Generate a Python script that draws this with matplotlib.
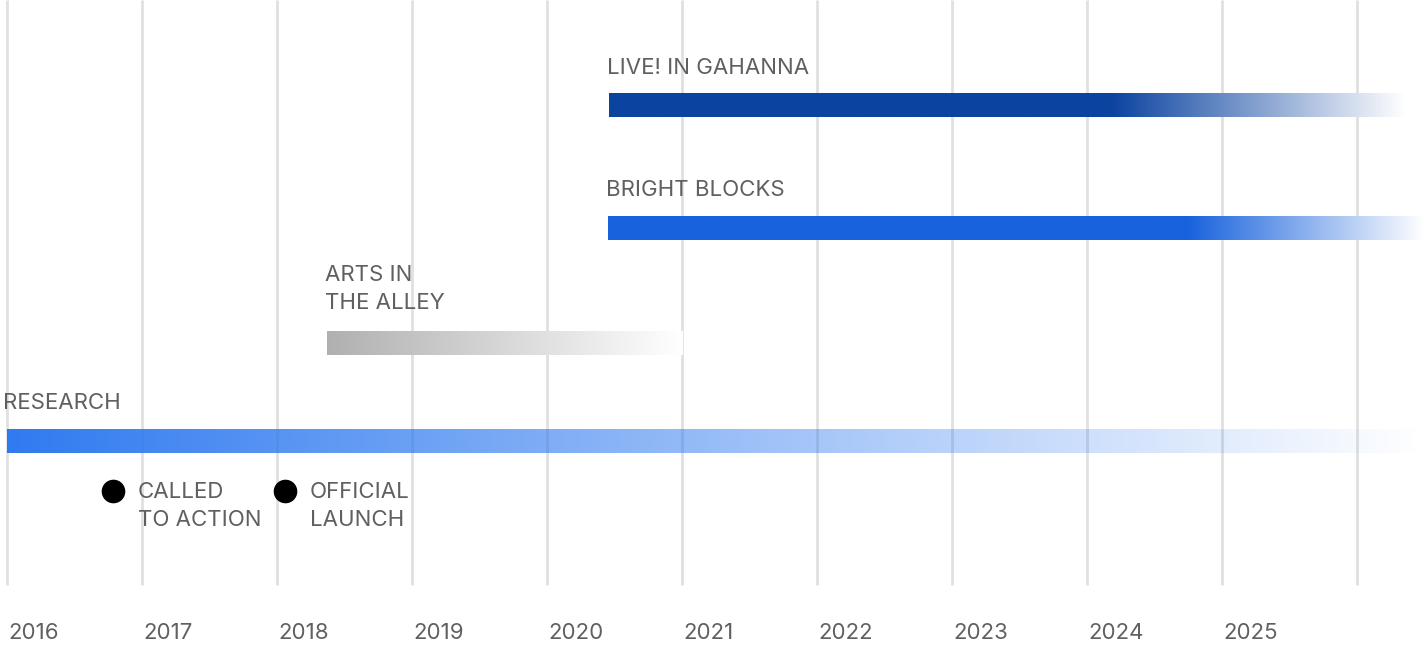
import numpy as np
import matplotlib.pyplot as plt
from matplotlib.colors import to_rgb

plt.rcParams['font.family'] = ['Inter', 'DejaVu Sans']

# timeline data (years)
years = np.arange(2016, 2027)
year_labels = [str(y) for y in range(2016, 2026)]

bar_names = ["LIVE! IN GAHANNA", "BRIGHT BLOCKS", "ARTS IN\nTHE ALLEY", "RESEARCH"]
bar_start = [2020.46, 2020.45, 2018.37, 2016.0]
bar_end = [2026.36, 2026.5, 2021.0, 2026.5]
bar_solid = [0.63, 0.71, 0.0, 0.0]   # fraction of bar before fading starts
bar_color = ["#0b43a0", "#1862dd", "#b0b0b0", "#2f7af0"]

event_names = ["CALLED\nTO ACTION", "OFFICIAL\nLAUNCH"]
event_year = [2016.785, 2018.06]

# layout (pixel-like y, top = 0)
bar_y = [105, 228, 343, 441]
bar_h = 24
label_y = [68, 190, 289, 403]
event_y = 491

fig = plt.figure(figsize=(14.24, 6.46), dpi=100)
ax = fig.add_axes([0, 0, 1, 1])
x0 = 2016 - 7 / 135
x1 = 2016 + 1417 / 135
ax.set_xlim(x0, x1)
ax.set_ylim(646, 0)
ax.axis('off')

txt_col = "#606060"
fs = 16

ax.vlines(years, 0, 585, color="#e0e0e0", lw=2, zorder=1)
for y, lab in zip(years, year_labels):
    ax.text(y + 0.012, 633, lab, fontsize=fs, color=txt_col, va='center', ha='left')

n = 400
for i in range(len(bar_names)):
    s, e = bar_start[i], bar_end[i]
    t = np.linspace(0, 1, n)
    f = np.clip((t - bar_solid[i]) / (1 - bar_solid[i]), 0, 1)
    rgb = np.array(to_rgb(bar_color[i]))
    img = np.zeros((1, n, 4))
    if bar_names[i] == "RESEARCH":
        img[0, :, :3] = rgb
        img[0, :, 3] = 1 - f
        z = 3
    else:
        img[0, :, :3] = rgb * (1 - f[:, None]) + f[:, None]
        img[0, :, 3] = 1
        z = 2
    ax.imshow(img, extent=[s, e, bar_y[i] + bar_h / 2, bar_y[i] - bar_h / 2],
              aspect='auto', interpolation='bilinear', zorder=z)
    lx = s - 0.03 if bar_names[i] == "RESEARCH" else s - 0.015
    ax.text(lx, label_y[i], bar_names[i], fontsize=fs, color=txt_col,
            va='center', ha='left', linespacing=1.5, zorder=4)

ax.plot(event_year, [event_y] * len(event_year), 'o', color='black', ms=16, zorder=4)
for ex, name in zip(event_year, event_names):
    ax.text(ex + 0.185, event_y + 14.5, name, fontsize=fs, color=txt_col,
            va='center', ha='left', linespacing=1.5, zorder=4)

fig.savefig("out.png", dpi=100)
